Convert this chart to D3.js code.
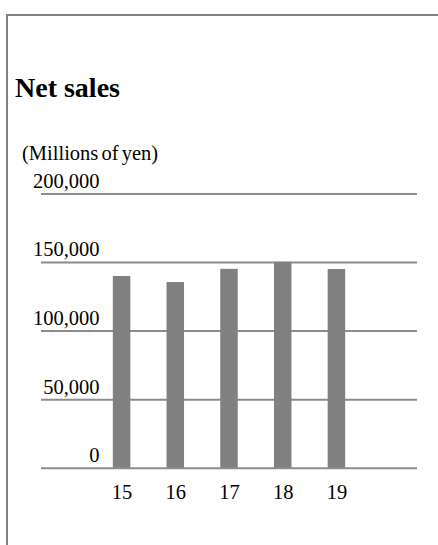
<!DOCTYPE html>
<html>
<head>
<meta charset="utf-8">
<script src="https://cdn.jsdelivr.net/npm/d3@7"></script>
<style>
  body { margin: 0; background: #fff; }
  svg text { font-family: "Liberation Serif", "Times New Roman", serif; fill: #000; }
</style>
</head>
<body>
<div id="chart"></div>
<script>
// Chart data
const years = ["15", "16", "17", "18", "19"];
const netSales = [139800, 135400, 145000, 150100, 144900];
const yTicks = [0, 50000, 100000, 150000, 200000];

const width = 438;
const height = 545;
const plot = { left: 41, right: 417, top: 193.4, bottom: 467.7 };
const fontSize = 20.5;

/*******************************/
/*    Append the containers    */
/*******************************/
const svg = d3.select("#chart")
  .append("svg")
    .attr("width", width)
    .attr("height", height);

// Frame: top and left borders
svg.append("line")
  .attr("x1", 7).attr("x2", width)
  .attr("y1", 15).attr("y2", 15)
  .attr("stroke", "#808080")
  .attr("stroke-width", 2);
svg.append("line")
  .attr("x1", 7).attr("x2", 7)
  .attr("y1", 14).attr("y2", height)
  .attr("stroke", "#808080")
  .attr("stroke-width", 2);

// Title and unit
svg.append("text")
  .attr("x", 15)
  .attr("y", 97)
  .attr("font-size", 28)
  .attr("font-weight", "bold")
  .text("Net sales");

svg.append("text")
  .attr("x", 22)
  .attr("y", 160)
  .attr("font-size", fontSize)
  .attr("word-spacing", -2)
  .text("(Millions of yen)");

/****************************/
/*    Declare the scales    */
/****************************/
const xScale = d3.scalePoint()
  .domain(years)
  .range([plot.left, plot.right])
  .padding(1.5);

const yScale = d3.scaleLinear()
  .domain([0, 200000])
  .range([plot.bottom, plot.top]);

const barWidth = 17.5;

/***************************/
/*     Append the axes     */
/***************************/
const leftAxis = d3.axisLeft(yScale)
  .tickValues(yTicks)
  .tickFormat(d3.format(","))
  .tickSize(-(plot.right - plot.left));
const yAxis = svg.append("g")
  .attr("transform", `translate(${plot.left}, 0)`)
  .call(leftAxis);
yAxis.select(".domain").remove();
yAxis.selectAll(".tick line")
  .attr("stroke", "#8c8c8c")
  .attr("stroke-width", 2);
yAxis.selectAll(".tick text")
  .attr("x", 58.5)
  .attr("dy", -6)
  .attr("text-anchor", "end")
  .attr("font-size", fontSize)
  .attr("font-family", null)
  .attr("fill", "#000");

const bottomAxis = d3.axisBottom(xScale).tickSize(0);
const xAxis = svg.append("g")
  .attr("transform", `translate(0, ${plot.bottom})`)
  .call(bottomAxis);
xAxis.select(".domain").remove();
xAxis.selectAll(".tick text")
  .attr("y", 31.5)
  .attr("dy", 0)
  .attr("font-size", fontSize)
  .attr("font-family", null)
  .attr("fill", "#000");

/************************/
/*    Draw the bars     */
/************************/
svg.append("g")
  .selectAll("rect")
  .data(years)
  .join("rect")
    .attr("x", d => xScale(d) - barWidth / 2)
    .attr("y", (d, i) => yScale(netSales[i]))
    .attr("width", barWidth)
    .attr("height", (d, i) => yScale(0) - yScale(netSales[i]))
    .attr("fill", "#808080");
</script>
</body>
</html>
